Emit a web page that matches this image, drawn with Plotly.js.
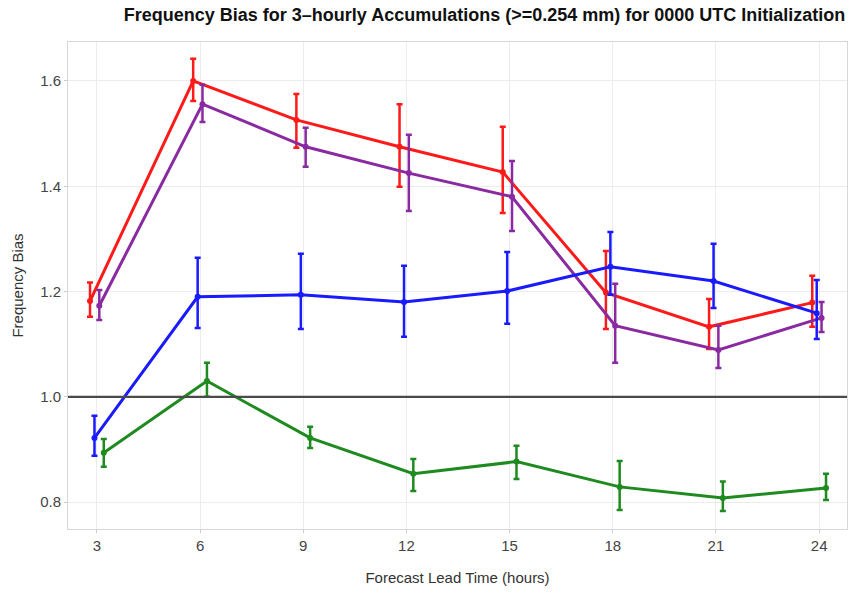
<!DOCTYPE html>
<html>
<head>
<meta charset="utf-8">
<script src="https://cdn.plot.ly/plotly-3.0.1.min.js"></script>
<style>html,body{margin:0;padding:0;background:#fff;}#chart{width:850px;height:594px;}</style>
</head>
<body>
<div id="chart"></div>
<script>
const leadTimes = [3, 6, 9, 12, 15, 18, 21, 24];
const tickLabels = ['3', '6', '9', '12', '15', '18', '21', '24'];

const redVals   = [1.182, 1.600, 1.526, 1.475, 1.427, 1.198, 1.133, 1.179];
const redHi     = [1.217, 1.642, 1.575, 1.556, 1.513, 1.277, 1.186, 1.230];
const redLo     = [1.152, 1.562, 1.473, 1.399, 1.349, 1.129, 1.091, 1.133];

const purpleVals = [1.173, 1.556, 1.475, 1.425, 1.380, 1.135, 1.089, 1.150];
const purpleHi   = [1.203, 1.593, 1.511, 1.498, 1.448, 1.215, 1.135, 1.180];
const purpleLo   = [1.146, 1.522, 1.437, 1.353, 1.315, 1.065, 1.055, 1.123];

const blueVals = [0.922, 1.190, 1.194, 1.180, 1.201, 1.247, 1.220, 1.159];
const blueHi   = [0.964, 1.264, 1.272, 1.249, 1.275, 1.313, 1.291, 1.222];
const blueLo   = [0.888, 1.131, 1.129, 1.114, 1.139, 1.194, 1.169, 1.110];

const greenVals = [0.894, 1.030, 0.922, 0.854, 0.877, 0.829, 0.808, 0.827];
const greenHi   = [0.920, 1.065, 0.943, 0.882, 0.907, 0.878, 0.839, 0.854];
const greenLo   = [0.867, 1.000, 0.903, 0.821, 0.844, 0.785, 0.783, 0.804];

function makeTrace(vals, hi, lo, color, dodge) {
  return {
    type: 'scatter',
    mode: 'lines+markers',
    x: leadTimes.map(t => t + dodge),
    y: vals,
    line: {color: color, width: 3},
    marker: {color: color, size: 6},
    error_y: {
      type: 'data', symmetric: false,
      array: hi.map((h, i) => h - vals[i]),
      arrayminus: lo.map((l, i) => vals[i] - l),
      color: color, thickness: 2.5, width: 3
    },
    showlegend: false,
    hoverinfo: 'x+y'
  };
}

const traces = [
  makeTrace(redVals, redHi, redLo, '#ff1a1a', -0.2),
  makeTrace(purpleVals, purpleHi, purpleLo, '#8a2aa0', 0.07),
  makeTrace(blueVals, blueHi, blueLo, '#1a1aff', -0.07),
  makeTrace(greenVals, greenHi, greenLo, '#1f8a1f', 0.2)
];

const layout = {
  width: 850, height: 594,
  margin: {l: 68, r: 3, t: 42, b: 65},
  paper_bgcolor: '#fff', plot_bgcolor: '#fff',
  font: {family: 'Liberation Sans, Arial, sans-serif', color: '#444'},
  title: {
    text: '<b>Frequency Bias for 3\u2013hourly Accumulations (>=0.254 mm) for 0000 UTC Initialization</b>',
    font: {family: 'Liberation Sans, Arial, sans-serif', size: 18, color: '#111'},
    x: 0.57, xanchor: 'center', y: 0.975, yanchor: 'middle'
  },
  xaxis: {
    range: [2.16, 24.81],
    tickvals: leadTimes, ticktext: tickLabels,
    showgrid: true, gridcolor: '#ececec', gridwidth: 1,
    zeroline: false, showline: true, linecolor: '#d8d8d8', linewidth: 1, mirror: true,
    ticks: 'outside', ticklen: 3, tickcolor: '#ccc',
    tickfont: {size: 15, color: '#444'},
    title: {text: 'Forecast Lead Time (hours)', font: {size: 15, color: '#333'}, standoff: 19}
  },
  yaxis: {
    range: [0.749, 1.674],
    tickvals: [0.8, 1.0, 1.2, 1.4, 1.6], ticktext: ['0.8', '1.0', '1.2', '1.4', '1.6'],
    showgrid: true, gridcolor: '#ececec', gridwidth: 1,
    zeroline: false, showline: true, linecolor: '#d8d8d8', linewidth: 1, mirror: true,
    ticks: 'outside', ticklen: 3, tickcolor: '#ccc',
    tickfont: {size: 15, color: '#444'},
    title: {text: 'Frequency Bias', font: {size: 15, color: '#333'}, standoff: 12}
  },
  shapes: [{
    type: 'line', xref: 'paper', x0: 0, x1: 1, yref: 'y', y0: 1.0, y1: 1.0,
    line: {color: '#4a4a4a', width: 2.2}, layer: 'above'
  }]
};

Plotly.newPlot('chart', traces, layout, {displayModeBar: false, staticPlot: true});
</script>
</body>
</html>
